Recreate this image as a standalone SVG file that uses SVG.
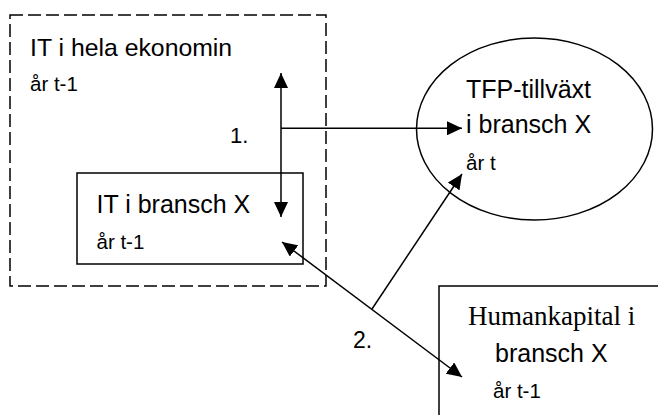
<svg xmlns="http://www.w3.org/2000/svg" width="658" height="415" viewBox="0 0 658 415">
<defs>
<style>
.s{font-family:"Liberation Sans",Arial,sans-serif;fill:#000}
.r{font-family:"Liberation Serif","Times New Roman",serif;fill:#000}
.box{fill:none;stroke:#000;stroke-width:1.5}
.c{fill:none;stroke:#000;stroke-width:1.5}
</style>
<marker id="ah" markerUnits="userSpaceOnUse" viewBox="0 0 15 14" refX="15" refY="7" markerWidth="15" markerHeight="14" orient="auto-start-reverse">
<path d="M0,0 L15,7 L0,14 z" fill="#000"/>
</marker>
</defs>
<rect width="658" height="415" fill="#fff"/>
<g id="node-it-ekonomin">
<rect class="box" x="10" y="15" width="316" height="271" stroke-dasharray="13 5"/>
<text class="s" x="30" y="55.5" font-size="24.8">IT i hela ekonomin</text>
<text class="s" x="30" y="90.5" font-size="20.5">år t-1</text>
</g>
<g id="node-it-bransch">
<rect class="box" x="77" y="173" width="226" height="91"/>
<text class="s" x="96.5" y="213" font-size="25">IT i bransch X</text>
<text class="s" x="96.5" y="249" font-size="20.5">år t-1</text>
</g>
<g id="node-tfp">
<ellipse class="box" cx="534.5" cy="129" rx="118" ry="91"/>
<text class="s" x="466" y="98" font-size="25">TFP-tillväxt</text>
<text class="s" x="466" y="133" font-size="25">i bransch X</text>
<text class="s" x="466" y="170" font-size="20.5">år t</text>
</g>
<g id="node-humankapital">
<rect class="box" x="439" y="286" width="240" height="150"/>
<text class="r" x="468" y="325" font-size="27">Humankapital i</text>
<text class="s" x="495" y="362" font-size="25">bransch X</text>
<text class="s" x="493" y="398" font-size="20.5">år t-1</text>
</g>
<g id="connectors">
<line class="c" x1="281" y1="73" x2="281" y2="217" marker-start="url(#ah)" marker-end="url(#ah)"/>
<line class="c" x1="281" y1="128.3" x2="462" y2="128.3" marker-end="url(#ah)"/>
<line class="c" x1="282" y1="242" x2="462" y2="377" marker-start="url(#ah)" marker-end="url(#ah)"/>
<line class="c" x1="372" y1="309" x2="462" y2="174" marker-end="url(#ah)"/>
<text class="s" x="230" y="143" font-size="22">1.</text>
<text class="s" x="353" y="348" font-size="23">2.</text>
</g>
</svg>
